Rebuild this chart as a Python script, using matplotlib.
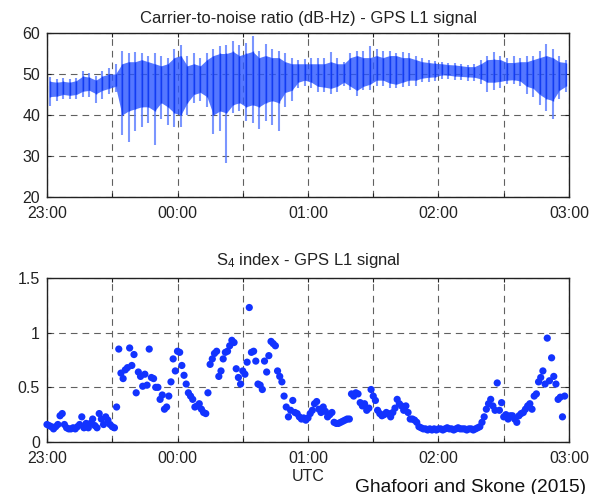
import numpy as np
import matplotlib
matplotlib.use("Agg")
import matplotlib.pyplot as plt
from matplotlib.ticker import FixedLocator, FixedFormatter

plt.rcParams['font.family'] = ['Liberation Sans', 'DejaVu Sans']
plt.rcParams['mathtext.fontset'] = 'custom'
plt.rcParams['mathtext.rm'] = 'Liberation Sans'
plt.rcParams['mathtext.it'] = 'Liberation Sans'

# ---------------- data ----------------
hour_labels = ["23:00", "00:00", "01:00", "02:00", "03:00"]

# C/N0 (dB-Hz), 3-minute bins from 23:00: extremes and core band
cn_bin_start = np.arange(0, 240, 3)
cn_min = [42.3, 43.5, 44.0, 43.8, 44.0, 44.3, 44.5, 43.0, 44.0, 45.0,
          45.5, 35.0, 33.4, 36.0, 37.0, 38.0, 32.6, 39.0, 37.5, 37.0,
          37.0, 40.0, 43.0, 43.5, 42.0, 35.4, 36.0, 28.3, 40.5, 41.0,
          38.5, 38.0, 36.5, 38.5, 37.5, 36.0, 42.0, 43.5, 46.5, 47.0,
          46.5, 45.5, 45.5, 45.0, 45.5, 47.0, 46.0, 44.7, 46.0, 46.0,
          47.0, 47.0, 46.5, 46.5, 46.8, 47.0, 47.0, 48.0, 48.0, 48.2,
          48.8, 48.8, 48.6, 48.5, 48.4, 48.2, 47.5, 45.5, 46.0, 46.5,
          47.5, 47.6, 47.0, 45.0, 44.3, 42.5, 41.0, 39.0, 44.0, 45.5]
cn_core_lo = [44.5, 44.6, 45.0, 44.8, 45.0, 45.8, 46.0, 45.2, 46.0, 46.5,
              47.0, 40.0, 41.0, 41.5, 42.0, 42.0, 41.0, 43.0, 42.0, 40.5,
              40.0, 43.0, 45.0, 45.5, 44.5, 40.0, 41.0, 40.5, 42.5, 43.0,
              42.0, 42.5, 42.0, 43.0, 43.5, 43.0, 45.5, 46.0, 48.0, 48.5,
              48.0, 47.0, 46.8, 46.5, 47.0, 48.0, 47.0, 46.0, 47.0, 47.5,
              48.5, 48.5, 47.8, 47.5, 48.0, 48.5, 48.5, 49.0, 49.2, 49.3,
              49.8, 49.7, 49.5, 49.4, 49.3, 49.2, 48.8, 48.0, 48.0, 48.2,
              48.5, 48.6, 48.3, 47.0, 46.5, 45.0, 44.0, 43.5, 46.0, 47.0]
cn_core_hi = [48.2, 48.0, 48.2, 48.0, 48.4, 49.5, 49.2, 48.5, 49.5, 50.0,
              50.0, 52.5, 53.0, 53.0, 53.5, 53.0, 52.5, 52.0, 52.5, 54.0,
              54.5, 52.0, 52.5, 52.0, 53.5, 54.5, 55.0, 55.0, 55.5, 54.5,
              55.0, 55.5, 54.0, 54.5, 54.0, 54.0, 53.0, 52.5, 52.5, 52.5,
              52.5, 52.5, 52.5, 53.0, 52.5, 52.5, 54.0, 54.5, 54.0, 54.0,
              54.5, 54.0, 54.5, 54.5, 54.0, 54.0, 53.5, 53.0, 52.8, 52.6,
              52.5, 52.3, 52.2, 52.0, 51.8, 51.8, 52.5, 53.5, 53.6, 53.5,
              52.8, 52.8, 53.0, 53.0, 53.5, 54.0, 54.5, 54.0, 53.0, 52.8]
cn_max = [49.2, 48.8, 49.0, 48.8, 49.0, 50.8, 50.2, 49.5, 50.8, 51.5,
          52.4, 55.7, 55.0, 55.3, 55.0, 54.5, 55.0, 54.5, 54.0, 56.0,
          57.0, 54.5, 55.0, 54.0, 55.0, 56.0, 56.9, 57.0, 58.1, 57.0,
          57.5, 59.3, 55.5, 57.3, 56.0, 55.5, 55.0, 54.0, 53.5, 53.6,
          54.0, 54.0, 54.0, 55.3, 54.0, 53.0, 55.0, 55.7, 55.5, 56.9,
          56.0, 55.5, 55.5, 55.0, 55.3, 55.0, 54.5, 54.0, 53.5, 53.2,
          53.0, 52.8, 52.8, 52.5, 52.3, 52.4, 53.5, 54.5, 55.3, 54.5,
          54.0, 54.4, 54.0, 54.5, 54.5, 55.5, 57.3, 56.0, 54.5, 53.5]

# S4 index, one value per minute from 23:00
s4 = [0.16, 0.15, 0.14, 0.12, 0.14, 0.16, 0.24, 0.26, 0.16, 0.13,
      0.12, 0.12, 0.13, 0.12, 0.14, 0.16, 0.23, 0.13, 0.17, 0.13,
      0.17, 0.21, 0.15, 0.13, 0.26, 0.21, 0.16, 0.23, 0.20, 0.16,
      0.14, 0.13, 0.32, 0.85, 0.63, 0.58, 0.66, 0.68, 0.86, 0.70,
      0.80, 0.45, 0.64, 0.60, 0.51, 0.62, 0.52, 0.85, 0.59, 0.58,
      0.50, 0.50, 0.39, 0.43, 0.30, 0.32, 0.42, 0.55, 0.76, 0.65,
      0.83, 0.82, 0.70, 0.61, 0.53, 0.45, 0.42, 0.39, 0.32, 0.33,
      0.35, 0.30, 0.27, 0.26, 0.45, 0.71, 0.76, 0.81, 0.83, 0.60,
      0.65, 0.76, 0.82, 0.83, 0.88, 0.93, 0.91, 0.67, 0.59, 0.53,
      0.65, 0.62, 0.73, 1.23, 0.82, 0.83, 0.74, 0.53, 0.52, 0.48,
      0.74, 0.64, 0.79, 0.92, 0.90, 0.88, 0.65, 0.60, 0.55, 0.42,
      0.32, 0.23, 0.29, 0.38, 0.27, 0.26, 0.23, 0.21, 0.22, 0.20,
      0.22, 0.26, 0.29, 0.35, 0.37, 0.30, 0.27, 0.32, 0.28, 0.23,
      0.25, 0.27, 0.18, 0.17, 0.17, 0.18, 0.19, 0.20, 0.21, 0.21,
      0.44, 0.42, 0.45, 0.44, 0.36, 0.33, 0.35, 0.29, 0.31, 0.48,
      0.42, 0.38, 0.29, 0.26, 0.24, 0.25, 0.27, 0.26, 0.23, 0.27,
      0.31, 0.39, 0.35, 0.33, 0.29, 0.33, 0.27, 0.21, 0.21, 0.20,
      0.18, 0.14, 0.13, 0.12, 0.12, 0.11, 0.12, 0.11, 0.12, 0.11,
      0.12, 0.12, 0.11, 0.12, 0.13, 0.12, 0.12, 0.11, 0.12, 0.13,
      0.12, 0.12, 0.12, 0.11, 0.12, 0.12, 0.11, 0.12, 0.13, 0.14,
      0.18, 0.23, 0.30, 0.35, 0.39, 0.33, 0.29, 0.54, 0.29, 0.36,
      0.23, 0.25, 0.21, 0.24, 0.24, 0.21, 0.18, 0.24, 0.26, 0.27,
      0.30, 0.33, 0.35, 0.30, 0.42, 0.44, 0.55, 0.59, 0.65, 0.53,
      0.95, 0.56, 0.77, 0.60, 0.53, 0.39, 0.41, 0.23, 0.42]
s4_minutes = np.arange(len(s4))

# ---------------- figure ----------------
fig = plt.figure(figsize=(6.02, 4.94), dpi=100)
ax1 = fig.add_axes([47/602, 1-197/494, 522/602, 164/494])
ax2 = fig.add_axes([47/602, 1-442/494, 522/602, 164/494])

grid_kw = dict(color='#606060', lw=0.8, linestyle=(0, (6, 4.5)))

def style(ax, ylim, yticks, ylabels):
    ax.set_xlim(0, 240)
    ax.set_ylim(*ylim)
    ax.xaxis.set_major_locator(FixedLocator(np.arange(0, 241, 30)))
    ax.xaxis.set_major_formatter(FixedFormatter(
        [hour_labels[i // 2] if i % 2 == 0 else "" for i in range(9)]))
    ax.set_yticks(yticks)
    ax.set_yticklabels(ylabels)
    ax.grid(True, **grid_kw)
    ax.set_axisbelow(True)
    ax.tick_params(direction='in', top=True, right=True, length=3,
                   width=0.8, labelsize=11.5, pad=5, colors='#222222')
    ax.tick_params(axis='x', pad=6.5)
    for s in ax.spines.values():
        s.set_linewidth(1.0)
        s.set_color('#222222')

# top: C/N0
centres = cn_bin_start + 1.5
ax1.fill_between(centres, cn_core_lo, cn_core_hi,
                 color='#2a55ff', alpha=0.8, lw=0, zorder=3)
ax1.vlines(centres, cn_min, cn_max, color='#5a7cff', lw=1.5,
           alpha=0.8, zorder=2)
ax1.vlines(centres, cn_core_lo, cn_core_hi, color='#0a33ee', lw=1.0,
           alpha=0.8, zorder=4)
style(ax1, (20, 60), [20, 30, 40, 50, 60], ["20", "30", "40", "50", "60"])
ax1.set_title("Carrier-to-noise ratio (dB-Hz) - GPS L1 signal",
              fontsize=12, pad=7, color='#222222')

# bottom: S4
ax2.scatter(s4_minutes, s4, s=27, color='#1233ff', edgecolors='none',
            zorder=3, clip_on=False)
style(ax2, (0, 1.5), [0, 0.5, 1, 1.5], ["0", "0.5", "1", "1.5"])
ax2.set_title(r"S$_4$ index - GPS L1 signal", fontsize=12, pad=9,
              color='#222222')
ax2.set_xlabel("UTC", fontsize=11.5, labelpad=2, color='#222222')

fig.text(355/602, 1-487/494, "Ghafoori and Skone (2015)", fontsize=13.8,
         ha='left', va='center', color='#111111')

fig.savefig("out.png", dpi=100)
